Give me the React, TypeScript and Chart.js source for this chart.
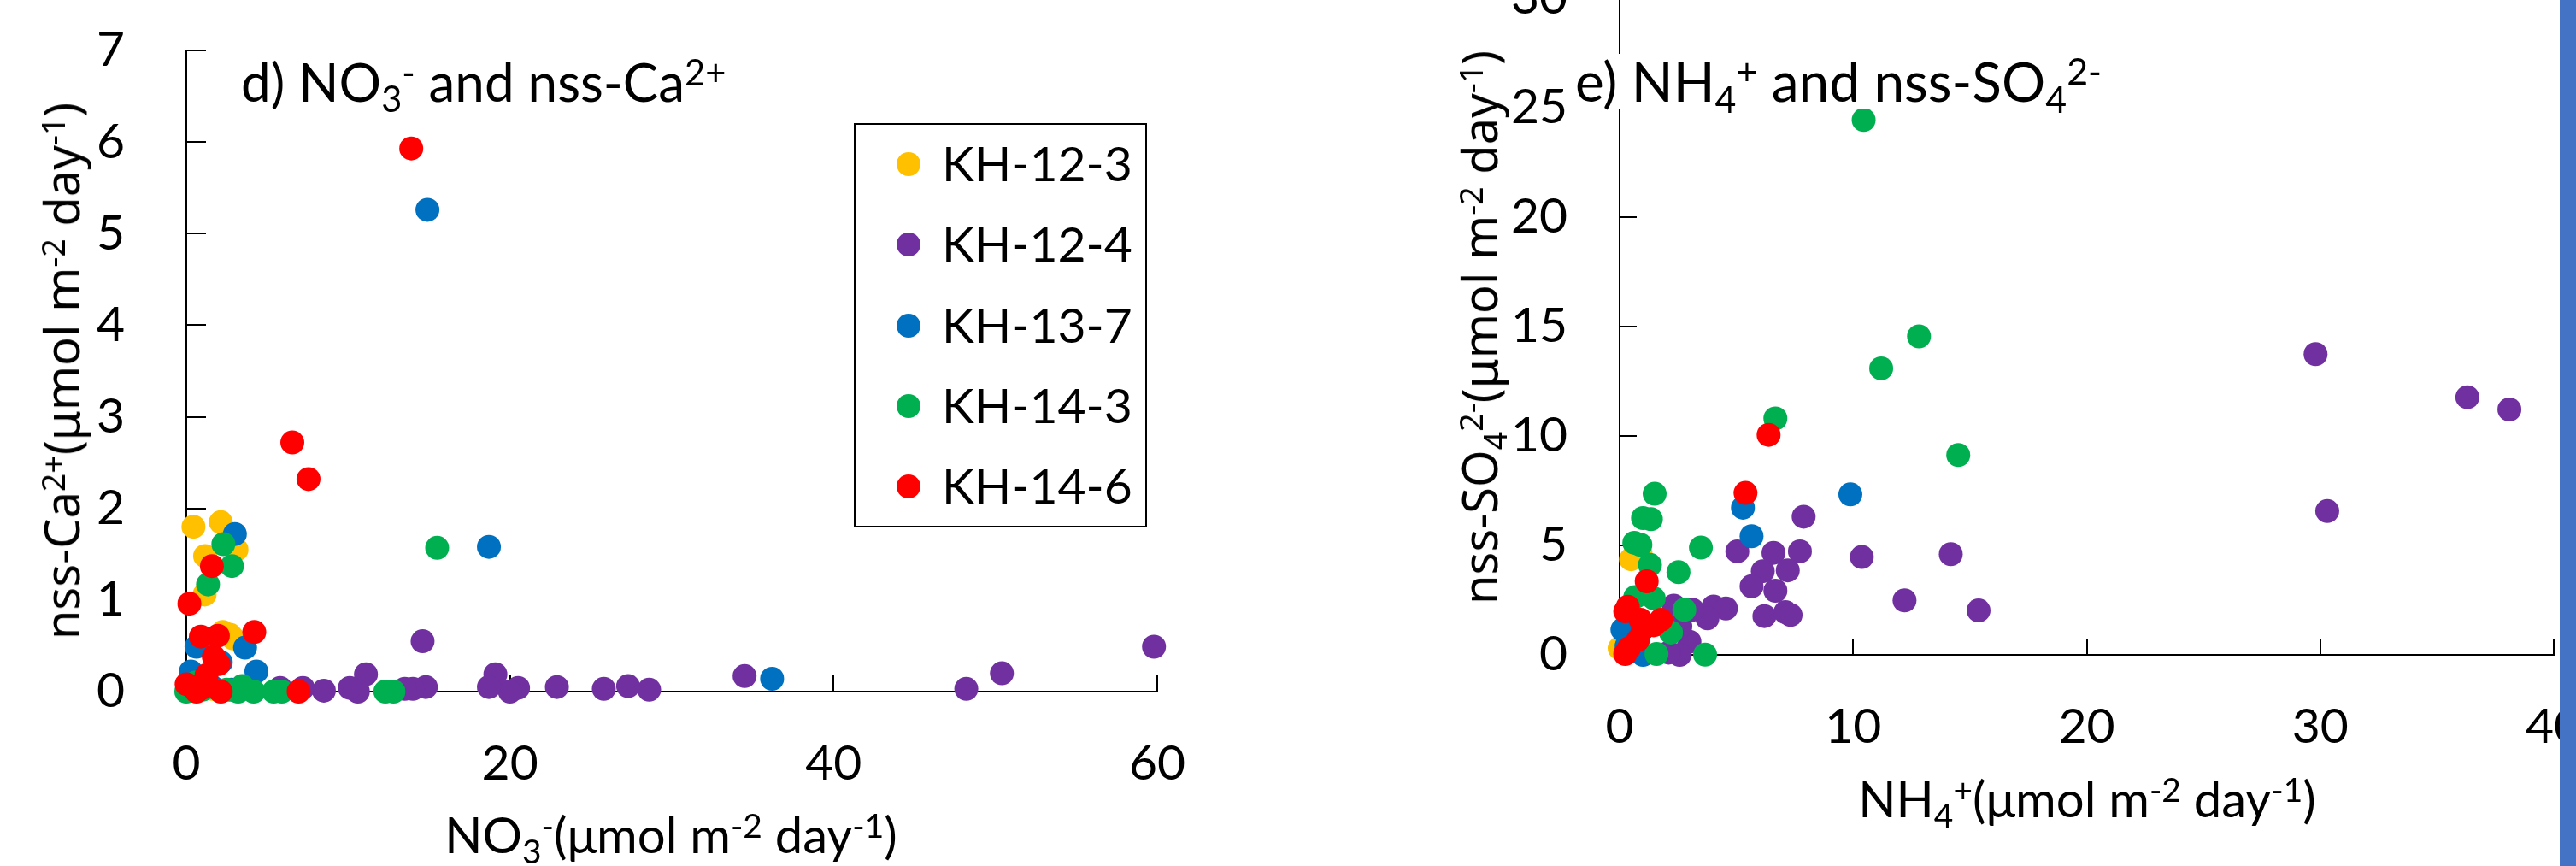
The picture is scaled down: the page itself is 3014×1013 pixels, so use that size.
import React, { useEffect, useRef } from 'react';
import { Chart, registerables } from 'chart.js';

Chart.register(...registerables);

// ---------- series meta ----------
const seriesNames = ['KH-12-3', 'KH-12-4', 'KH-13-7', 'KH-14-3', 'KH-14-6'];
const seriesColors = ['#FFC000', '#7030A0', '#0070C0', '#00B050', '#FF0000'];

// ---------- panel d: NO3- (x) vs nss-Ca2+ (y), [x, y] ----------
const d_KH12_3 = [[0.44, 1.8], [2.13, 1.85], [3.1, 1.55], [1.16, 1.48], [1.13, 1.06], [2.25, 0.65], [2.7, 0.62], [2.9, 0.58], [0.6, 0.08], [1.6, 0.03]];
const d_KH12_4 = [[14.6, 0.55], [59.8, 0.49], [50.4, 0.2], [48.2, 0.03], [34.5, 0.17], [28.6, 0.02], [27.3, 0.06], [25.8, 0.03], [22.9, 0.05], [20.5, 0.04], [20.0, 0.0], [19.1, 0.19], [18.7, 0.05], [14.8, 0.05], [14.0, 0.03], [13.5, 0.03], [11.1, 0.19], [10.6, 0.0], [10.1, 0.04], [8.5, 0.01], [7.2, 0.04], [5.8, 0.04]];
const d_KH13_7 = [[14.9, 5.26], [18.7, 1.58], [36.2, 0.14], [3.0, 1.72], [0.63, 0.49], [3.63, 0.48], [2.13, 0.32], [0.28, 0.22], [4.33, 0.22], [1.6, 0.05], [2.8, 0.02]];
const d_KH14_3 = [[15.5, 1.57], [2.29, 1.61], [2.82, 1.37], [1.34, 1.17], [0.0, 0.0], [3.45, 0.06], [4.16, 0.0], [5.4, 0.0], [5.9, 0.0], [12.3, 0.0], [12.8, 0.0], [1.0, 0.02], [2.5, 0.02], [0.6, 0.1], [3.2, 0.0]];
const d_KH14_6 = [[13.9, 5.93], [6.55, 2.72], [7.55, 2.32], [1.58, 1.37], [0.19, 0.96], [0.9, 0.6], [1.95, 0.61], [4.2, 0.65], [1.7, 0.38], [2.0, 0.3], [1.25, 0.18], [0.02, 0.08], [0.63, 0.0], [2.13, 0.0], [6.94, 0.0], [1.0, 0.04]];

// ---------- panel e: NH4+ (x) vs nss-SO4 2- (y), [x, y] ----------
const e_KH12_3 = [[0.49, 4.37], [0.9, 4.6], [0.0, 0.3]];
const e_KH12_4 = [[29.8, 13.74], [36.3, 11.77], [38.1, 11.21], [30.3, 6.57], [7.88, 6.31], [5.04, 4.73], [6.59, 4.66], [7.72, 4.73], [10.37, 4.47], [14.18, 4.6], [6.13, 3.82], [7.2, 3.86], [5.65, 3.13], [6.67, 2.93], [12.2, 2.49], [15.37, 2.03], [6.2, 1.77], [7.1, 1.95], [7.32, 1.82], [4.02, 2.21], [4.55, 2.12], [3.76, 1.67], [3.11, 2.06], [2.32, 2.25], [2.99, 0.6], [2.57, 0.0], [2.1, 0.1], [2.6, 1.3]];
const e_KH13_7 = [[9.88, 7.33], [5.28, 6.72], [5.65, 5.42], [0.12, 1.15], [1.0, 0.0], [0.3, 0.4]];
const e_KH14_3 = [[10.45, 24.44], [12.82, 14.55], [11.2, 13.09], [6.67, 10.8], [14.5, 9.13], [1.5, 7.36], [1.0, 6.25], [1.34, 6.2], [0.63, 5.12], [0.89, 5.03], [1.3, 4.11], [3.48, 4.9], [2.52, 3.78], [2.77, 2.06], [3.66, 0.01], [1.58, 0.04], [2.2, 1.02], [1.46, 2.58], [0.67, 2.64], [1.8, 1.4]];
const e_KH14_6 = [[6.38, 10.05], [5.39, 7.4], [1.16, 3.36], [0.24, 1.99], [0.35, 2.2], [1.77, 1.6], [1.46, 1.35], [1.0, 1.2], [0.79, 0.69], [0.24, 0.04], [0.4, 0.3], [0.9, 1.6]];

// ---------- tick values ----------
const dTicksX = [0, 20, 40, 60];
const dTicksY = [0, 1, 2, 3, 4, 5, 6, 7];
const eTicksX = [0, 10, 20, 30, 40];
const eTicksY = [0, 5, 10, 15, 20, 25, 30];

const dSeries = [d_KH12_3, d_KH12_4, d_KH13_7, d_KH14_3, d_KH14_6];
const eSeries = [e_KH12_3, e_KH12_4, e_KH13_7, e_KH14_3, e_KH14_6];

const TICK_FONT = { family: 'Lato', size: 57 };

const innerTicks = {
  id: 'innerTicks',
  beforeDatasetsDraw(chart: any, _args: any, opts: any) {
    const { ctx, chartArea, scales } = chart;
    ctx.save();
    ctx.strokeStyle = '#000';
    ctx.lineWidth = 2;
    scales.x.ticks.forEach((t: any) => {
      const px = Math.round(scales.x.getPixelForValue(t.value));
      ctx.beginPath();
      ctx.moveTo(px, chartArea.bottom);
      ctx.lineTo(px, chartArea.bottom - opts.xLen);
      ctx.stroke();
    });
    scales.y.ticks.forEach((t: any) => {
      const py = Math.round(scales.y.getPixelForValue(t.value));
      ctx.beginPath();
      ctx.moveTo(chartArea.left, py);
      ctx.lineTo(chartArea.left + opts.yLen, py);
      ctx.stroke();
    });
    ctx.restore();
  },
};

function buildDatasets(series: number[][][]) {
  return series.map((arr, i) => ({
    label: seriesNames[i],
    data: arr.map(([x, y]) => ({ x, y })),
    backgroundColor: seriesColors[i],
    borderWidth: 0,
    pointRadius: 14,
    pointHoverRadius: 14,
    clip: false as any,
    order: series.length - 1 - i,
  }));
}

type PanelProps = {
  left: number; top: number; width: number; height: number;
  series: number[][][];
  xMax: number; yMax: number; xTicks: number[]; yTicks: number[];
  padTop: number; padRight: number; yAxisWidth: number; xAxisHeight: number;
  xLabelPad: number; yLabelPad: number; xTickLen: number; yTickLen: number;
};

function Panel(p: PanelProps) {
  const ref = useRef<HTMLCanvasElement>(null);
  useEffect(() => {
    if (!ref.current) return;
    const chart = new Chart(ref.current, {
      type: 'scatter',
      data: { datasets: buildDatasets(p.series) as any },
      options: {
        responsive: false,
        animation: false,
        devicePixelRatio: 1,
        layout: { padding: { top: p.padTop, right: p.padRight, left: 0, bottom: 0 } },
        plugins: {
          legend: { display: false },
          tooltip: { enabled: false },
          innerTicks: { xLen: p.xTickLen, yLen: p.yTickLen },
        } as any,
        scales: {
          x: {
            type: 'linear',
            min: 0,
            max: p.xMax,
            afterBuildTicks: (s: any) => { s.ticks = p.xTicks.map((v) => ({ value: v })); },
            afterFit: (s: any) => { s.height = p.xAxisHeight; },
            grid: { display: false, drawTicks: false, drawOnChartArea: false },
            border: { display: true, color: '#000', width: 2 },
            ticks: { color: '#000', font: TICK_FONT, padding: p.xLabelPad, maxRotation: 0, autoSkip: false },
          },
          y: {
            type: 'linear',
            min: 0,
            max: p.yMax,
            afterBuildTicks: (s: any) => { s.ticks = p.yTicks.map((v) => ({ value: v })); },
            afterFit: (s: any) => { s.width = p.yAxisWidth; },
            grid: { display: false, drawTicks: false, drawOnChartArea: false },
            border: { display: true, color: '#000', width: 2 },
            ticks: { color: '#000', font: TICK_FONT, padding: p.yLabelPad, autoSkip: false },
          },
        },
      },
      plugins: [innerTicks],
    });
    return () => chart.destroy();
  }, []);
  return (
    <canvas
      ref={ref}
      width={p.width}
      height={p.height}
      style={{ position: 'absolute', left: p.left, top: p.top, width: p.width, height: p.height }}
    />
  );
}

const Sup = ({ t }: { t: string }) => (
  <span style={{ fontSize: '0.67em', position: 'relative', top: '-0.46em' }}>{t}</span>
);
const Sub = ({ t }: { t: string }) => (
  <span style={{ fontSize: '0.67em', position: 'relative', top: '0.3em' }}>{t}</span>
);

const abs = (left: number, top: number, extra: any = {}) => ({
  position: 'absolute' as const, left, top, whiteSpace: 'nowrap' as const, lineHeight: 1, color: '#000', ...extra,
});

export default function App() {
  return (
    <div style={{ position: 'absolute', left: 0, top: 0, width: 3014, height: 1013, overflow: 'hidden', background: '#fff' }}>
      {/* Panel d: canvas starts above the page so the label padding never pushes the plot top down */}
      <Panel
        left={0} top={-80} width={1500} height={1093}
        series={dSeries}
        xMax={60} yMax={7} xTicks={dTicksX} yTicks={dTicksY}
        padTop={139} padRight={146} yAxisWidth={218} xAxisHeight={1093 - 889}
        xLabelPad={50} yLabelPad={72} xTickLen={19} yTickLen={23}
      />
      {/* Panel e */}
      <Panel
        left={1520} top={-100} width={1600} height={1113}
        series={eSeries}
        xMax={40} yMax={30} xTicks={eTicksX} yTicks={eTicksY}
        padTop={98} padRight={132} yAxisWidth={375} xAxisHeight={1113 - 866}
        xLabelPad={50} yLabelPad={61} xTickLen={19} yTickLen={20}
      />

      {/* Panel d titles */}
      <div style={abs(282, 97 - 33, { fontFamily: 'Lato', fontSize: 62, background: '#fff' })}>
        d) NO<Sub t="3" /><Sup t="-" /> and nss-Ca<Sup t="2+" />
      </div>
      <div style={abs(785, 978, { fontFamily: 'Lato', fontSize: 58, transform: 'translate(-50%, -53%)' })}>
        NO<Sub t="3" /><Sup t="-" />(μmol m<Sup t="-2" /> day<Sup t="-1" />)
      </div>
      <div style={abs(71, 434, { fontFamily: 'Noto Sans', fontSize: 56, transform: 'translate(-50%, -50%) rotate(-90deg)' })}>
        nss-Ca<Sup t="2+" />(μmol m<Sup t="-2" /> day<Sup t="-1" />)
      </div>

      {/* Legend (panel d) */}
      <div style={{ position: 'absolute', left: 999, top: 144, width: 343, height: 473, border: '2px solid #000', boxSizing: 'border-box', background: '#fff' }} />
      {seriesNames.map((name, i) => {
        const cy = 192 + i * 94.3;
        return (
          <React.Fragment key={name}>
            <div style={{ position: 'absolute', left: 1063 - 14, top: cy - 14, width: 28, height: 28, borderRadius: '50%', background: seriesColors[i] }} />
            <div style={abs(1102, cy - 30, { fontFamily: 'Lato', fontSize: 57 })}>{name}</div>
          </React.Fragment>
        );
      })}

      {/* Panel e titles */}
      <div style={abs(1843, 97 - 34, { fontFamily: 'Lato', fontSize: 64, background: '#fff' })}>
        e) NH<Sub t="4" /><Sup t="+" /> and nss-SO<Sub t="4" /><Sup t="2-" />
      </div>
      <div style={abs(2442, 936, { fontFamily: 'Lato', fontSize: 58, transform: 'translate(-50%, -53%)' })}>
        NH<Sub t="4" /><Sup t="+" />(μmol m<Sup t="-2" /> day<Sup t="-1" />)
      </div>
      <div style={abs(1730, 383, { fontFamily: 'Noto Sans', fontSize: 56, transform: 'translate(-50%, -50%) rotate(-90deg)' })}>
        nss-SO<Sub t="4" /><Sup t="2-" />(μmol m<Sup t="-2" /> day<Sup t="-1" />)
      </div>

      {/* right-hand blue bar */}
      <div style={{ position: 'absolute', left: 2995, top: 0, width: 19, height: 1013, background: '#4472C4' }} />
    </div>
  );
}
